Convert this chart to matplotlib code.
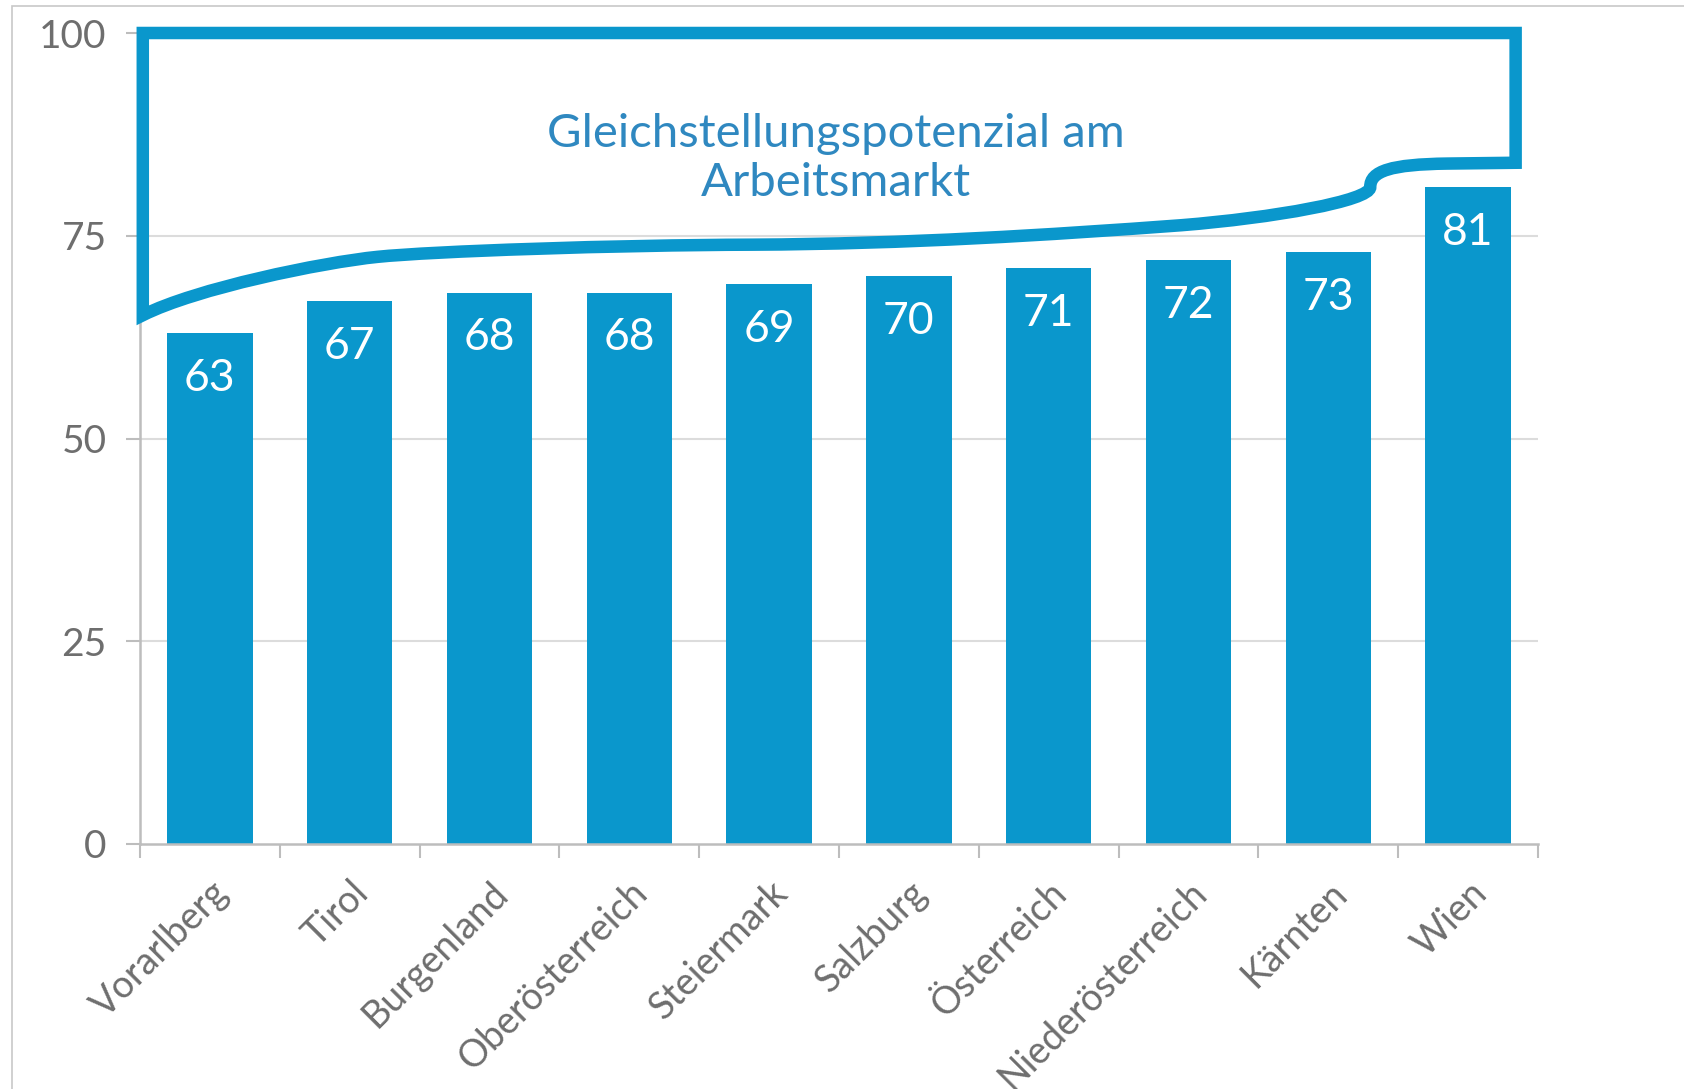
import matplotlib
matplotlib.use("Agg")
import matplotlib.pyplot as plt
from matplotlib.path import Path
from matplotlib.patches import PathPatch, Rectangle

# Data
regions = ["Vorarlberg", "Tirol", "Burgenland", "Oberösterreich", "Steiermark",
           "Salzburg", "Österreich", "Niederösterreich", "Kärnten", "Wien"]
values = [63, 67, 68, 68, 69, 70, 71, 72, 73, 81]
y_ticks = [0, 25, 50, 75, 100]
box_label = "Gleichstellungspotenzial am\nArbeitsmarkt"

blue = "#0a97cc"
text_blue = "#2f88c0"
gray = "#6e6e6e"

plt.rcParams["font.family"] = ["Lato", "DejaVu Sans"]

fig = plt.figure(figsize=(16.84, 10.89), dpi=100)
W, H = 1684, 1089
ax = fig.add_axes([140 / W, (H - 844) / H, (1538 - 140) / W, (844 - 33) / H])

x = list(range(len(regions)))
bars = ax.bar(x, values, width=0.61, color=blue, zorder=2)

# value labels inside bars
for xi, v in zip(x, values):
    ax.text(xi, v - 5.6, str(v), ha="center", va="center", color="white",
            fontsize=32, zorder=3)

ax.set_xlim(-0.5, len(regions) - 0.5)
ax.set_ylim(0, 100)
ax.set_yticks(y_ticks)
ax.set_yticklabels([str(t) for t in y_ticks], fontsize=28, color=gray)
ax.tick_params(axis="y", length=10, width=1.5, color="#bdbdbd", pad=14)

# category labels at centres, ticks at the boundaries
ax.set_xticks(x)
ax.set_xticklabels(regions, rotation=45, ha="right", rotation_mode="anchor",
                   fontsize=27, color=gray)
ax.tick_params(axis="x", which="major", length=0, pad=22)
ax.set_xticks([i - 0.5 for i in range(len(regions) + 1)], minor=True)
ax.tick_params(axis="x", which="minor", length=10, width=1.5, color="#bdbdbd")

# horizontal gridlines (the 100 line is hidden under the outline)
for t in y_ticks[1:-1]:
    ax.axhline(t, color="#dcdcdc", linewidth=1.5, zorder=0)
for s in ["top", "right"]:
    ax.spines[s].set_visible(False)
for s in ["left", "bottom"]:
    ax.spines[s].set_color("#bdbdbd")
    ax.spines[s].set_linewidth(1.8)

# decorative outline showing the gap to 100
verts = [(-0.48, 100), (9.34, 100), (9.34, 84), (8.85, 83.9),
         (8.45, 83.8), (8.3, 83.0), (8.3, 81.0),
         (8.3, 79.3), (7.6, 77.2), (6.95, 76.3),
         (6.0, 75.1), (5.0, 74.0), (3.88, 73.9),
         (2.9, 73.85), (1.6, 73.1), (1.2, 72.4),
         (0.8, 71.7), (-0.1, 68.5), (-0.48, 65.2),
         (-0.48, 100)]
codes = ([Path.MOVETO, Path.LINETO, Path.LINETO, Path.LINETO]
         + [Path.CURVE4] * 15 + [Path.CLOSEPOLY])
outline = PathPatch(Path(verts, codes), fill=False, edgecolor=blue, lw=9,
                    joinstyle="miter", zorder=4, clip_on=False)
ax.add_patch(outline)

ax.text(4.48, 84.5, box_label, ha="center", va="center", color=text_blue,
        fontsize=34, linespacing=1.2, zorder=5)

# thin frame around the picture
fig.patches.append(Rectangle((12 / W, -0.1), 1.2, (H - 6) / H + 0.1,
                             transform=fig.transFigure, fill=False,
                             edgecolor="#c8c8c8", lw=1.2))

fig.savefig("out.png", dpi=100)
